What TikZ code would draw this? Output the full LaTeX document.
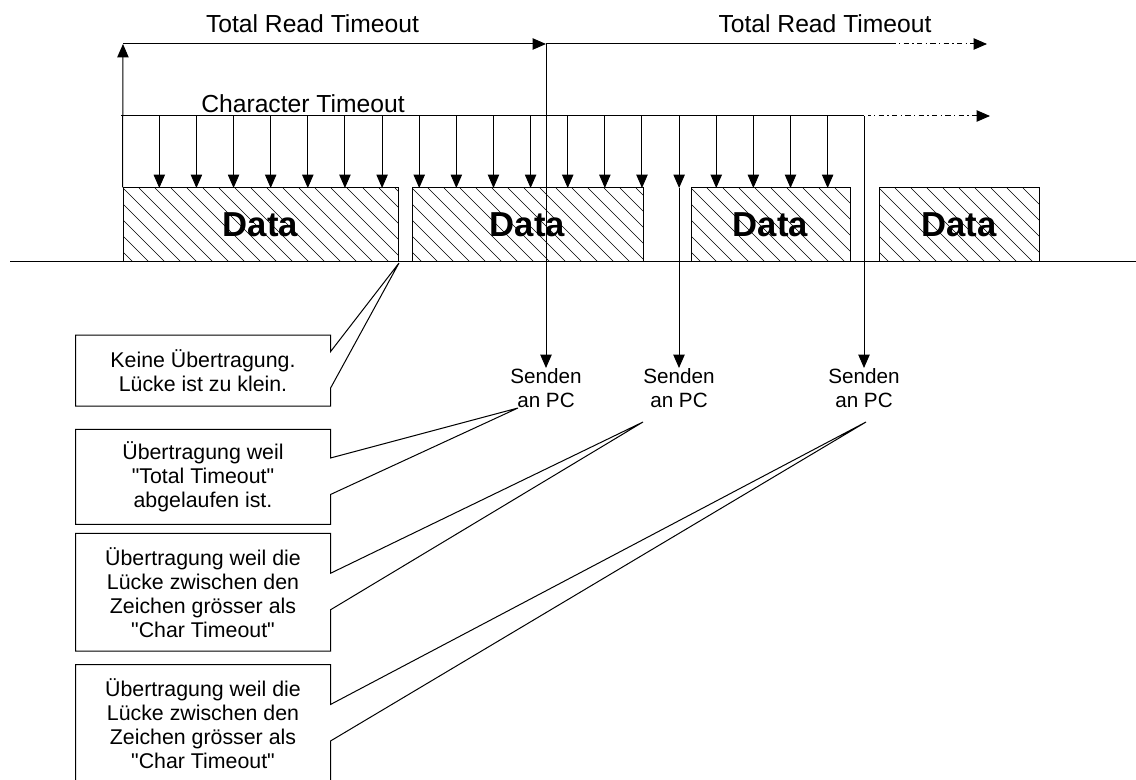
\documentclass[tikz,border=0pt]{standalone}
\usepackage{fontspec}
\setmainfont{Liberation Sans}[Ligatures=TeXOff]
\usetikzlibrary{arrows.meta,calc}
\definecolor{ink}{HTML}{000000}

\begin{document}
\begin{tikzpicture}[x=.75pt,y=-.75pt,line width=.75pt,draw=ink,
 tip/.style={-{Triangle[length=10pt,width=8.5pt]}},
 dashdot/.style={dash pattern=on 4pt off 2.5pt on 1pt off 2.5pt,dash phase=2pt},
 hatch/.style={line width=.5pt},
 databox/.style={draw,inner sep=0pt,minimum height=55.5pt,font=\fontsize{26}{26}\selectfont\bfseries},
 timelabel/.style={anchor=base,inner sep=0pt,font=\fontsize{18.5}{20}\selectfont},
 sendlabel/.style={anchor=north,inner sep=0pt,align=center,font=\fontsize{15.5}{18}\selectfont},
 callbox/.style={inner sep=0pt,minimum width=190.5pt,align=center,font=\fontsize{16}{18}\selectfont}]
 \path[use as bounding box,fill=white](0,0)rectangle(1136,780);
 % time axis
 \draw(10,262)--(1136,262);
 % data blocks, hatched
 \foreach \name/\l/\r in {data1/123/398,data2/412/643,data3/691/850,data4/879/1039}{
  \begin{scope}\clip(\l,188)rectangle(\r,262);
   \foreach \s in {0,16,...,368}\draw[hatch](\l-80+\s,188)--++(74,74);
  \end{scope}
  \node[databox,minimum width={(\r-\l)*.75pt}](\name)at({(\l+\r)/2},225){Data};}
 % total read timeout
 \coordinate(t0)at(123,44);\coordinate(t1)at(546,44);
 \coordinate(t2)at(893,44);\coordinate(t3)at(987,44);
 \draw[tip](data1.north west)--(t0);
 \draw[tip](t0)--(t1);
 \draw(t1)--(t2);\draw[tip,dashdot](t2)--(t3);
 \node[timelabel](trt1)at(312.5,33){Total Read Timeout};
 \node[timelabel](trt2)at(825,33){Total Read Timeout};
 % character timeout
 \coordinate(c0)at(121,116);\coordinate(c1)at(864,116);
 \coordinate(c2)at(868,116);\coordinate(c3)at(990,116);
 \draw(c0)--(c1);\draw[tip,dashdot](c2)--(c3);
 \node[timelabel](ct)at(303,113){Character Timeout};
 \foreach \k in {0,...,18}\draw[tip]({159.3+37.13*\k},116)--++(0,72);
 % send to PC
 \node[sendlabel](send1)at(546,368){Senden\\an PC};
 \node[sendlabel](send2)at(679,368){Senden\\an PC};
 \node[sendlabel](send3)at(864,368){Senden\\an PC};
 \draw[tip](t1)--(send1.north);
 \draw[tip](679,188)--(send2.north);
 \draw[tip](c1)--(send3.north);
 % remarks
 \node[callbox,minimum height=52.5pt](noTx)at(203,370.7){Keine Übertragung.\\Lücke ist zu klein.};
 \node[callbox,minimum height=70.5pt](txTotal)at(203,477){Übertragung weil\\"Total Timeout"\\abgelaufen ist.};
 \node[callbox,minimum height=87.5pt](txGapA)at(203,592.3){Übertragung weil die\\Lücke zwischen den\\Zeichen grösser als\\"Char Timeout"};
 \node[callbox,minimum height=87.75pt](txGapB)at(203,723.5){Übertragung weil die\\Lücke zwischen den\\Zeichen grösser als\\"Char Timeout"};
 \coordinate(gapTip)at(399,263);\coordinate(tipB)at(518,408);
 \coordinate(tipC)at(643,422);\coordinate(tipD)at(866,422);
 \foreach \b/\t in {noTx/gapTip,txTotal/tipB,txGapA/tipC,txGapB/tipD}
  \draw($(\b.east)+(0,-19)$)--(\b.north east)--(\b.north west)--(\b.south west)
   --(\b.south east)--($(\b.east)+(0,17.5)$)--(\t)--cycle;
\end{tikzpicture}
\end{document}
